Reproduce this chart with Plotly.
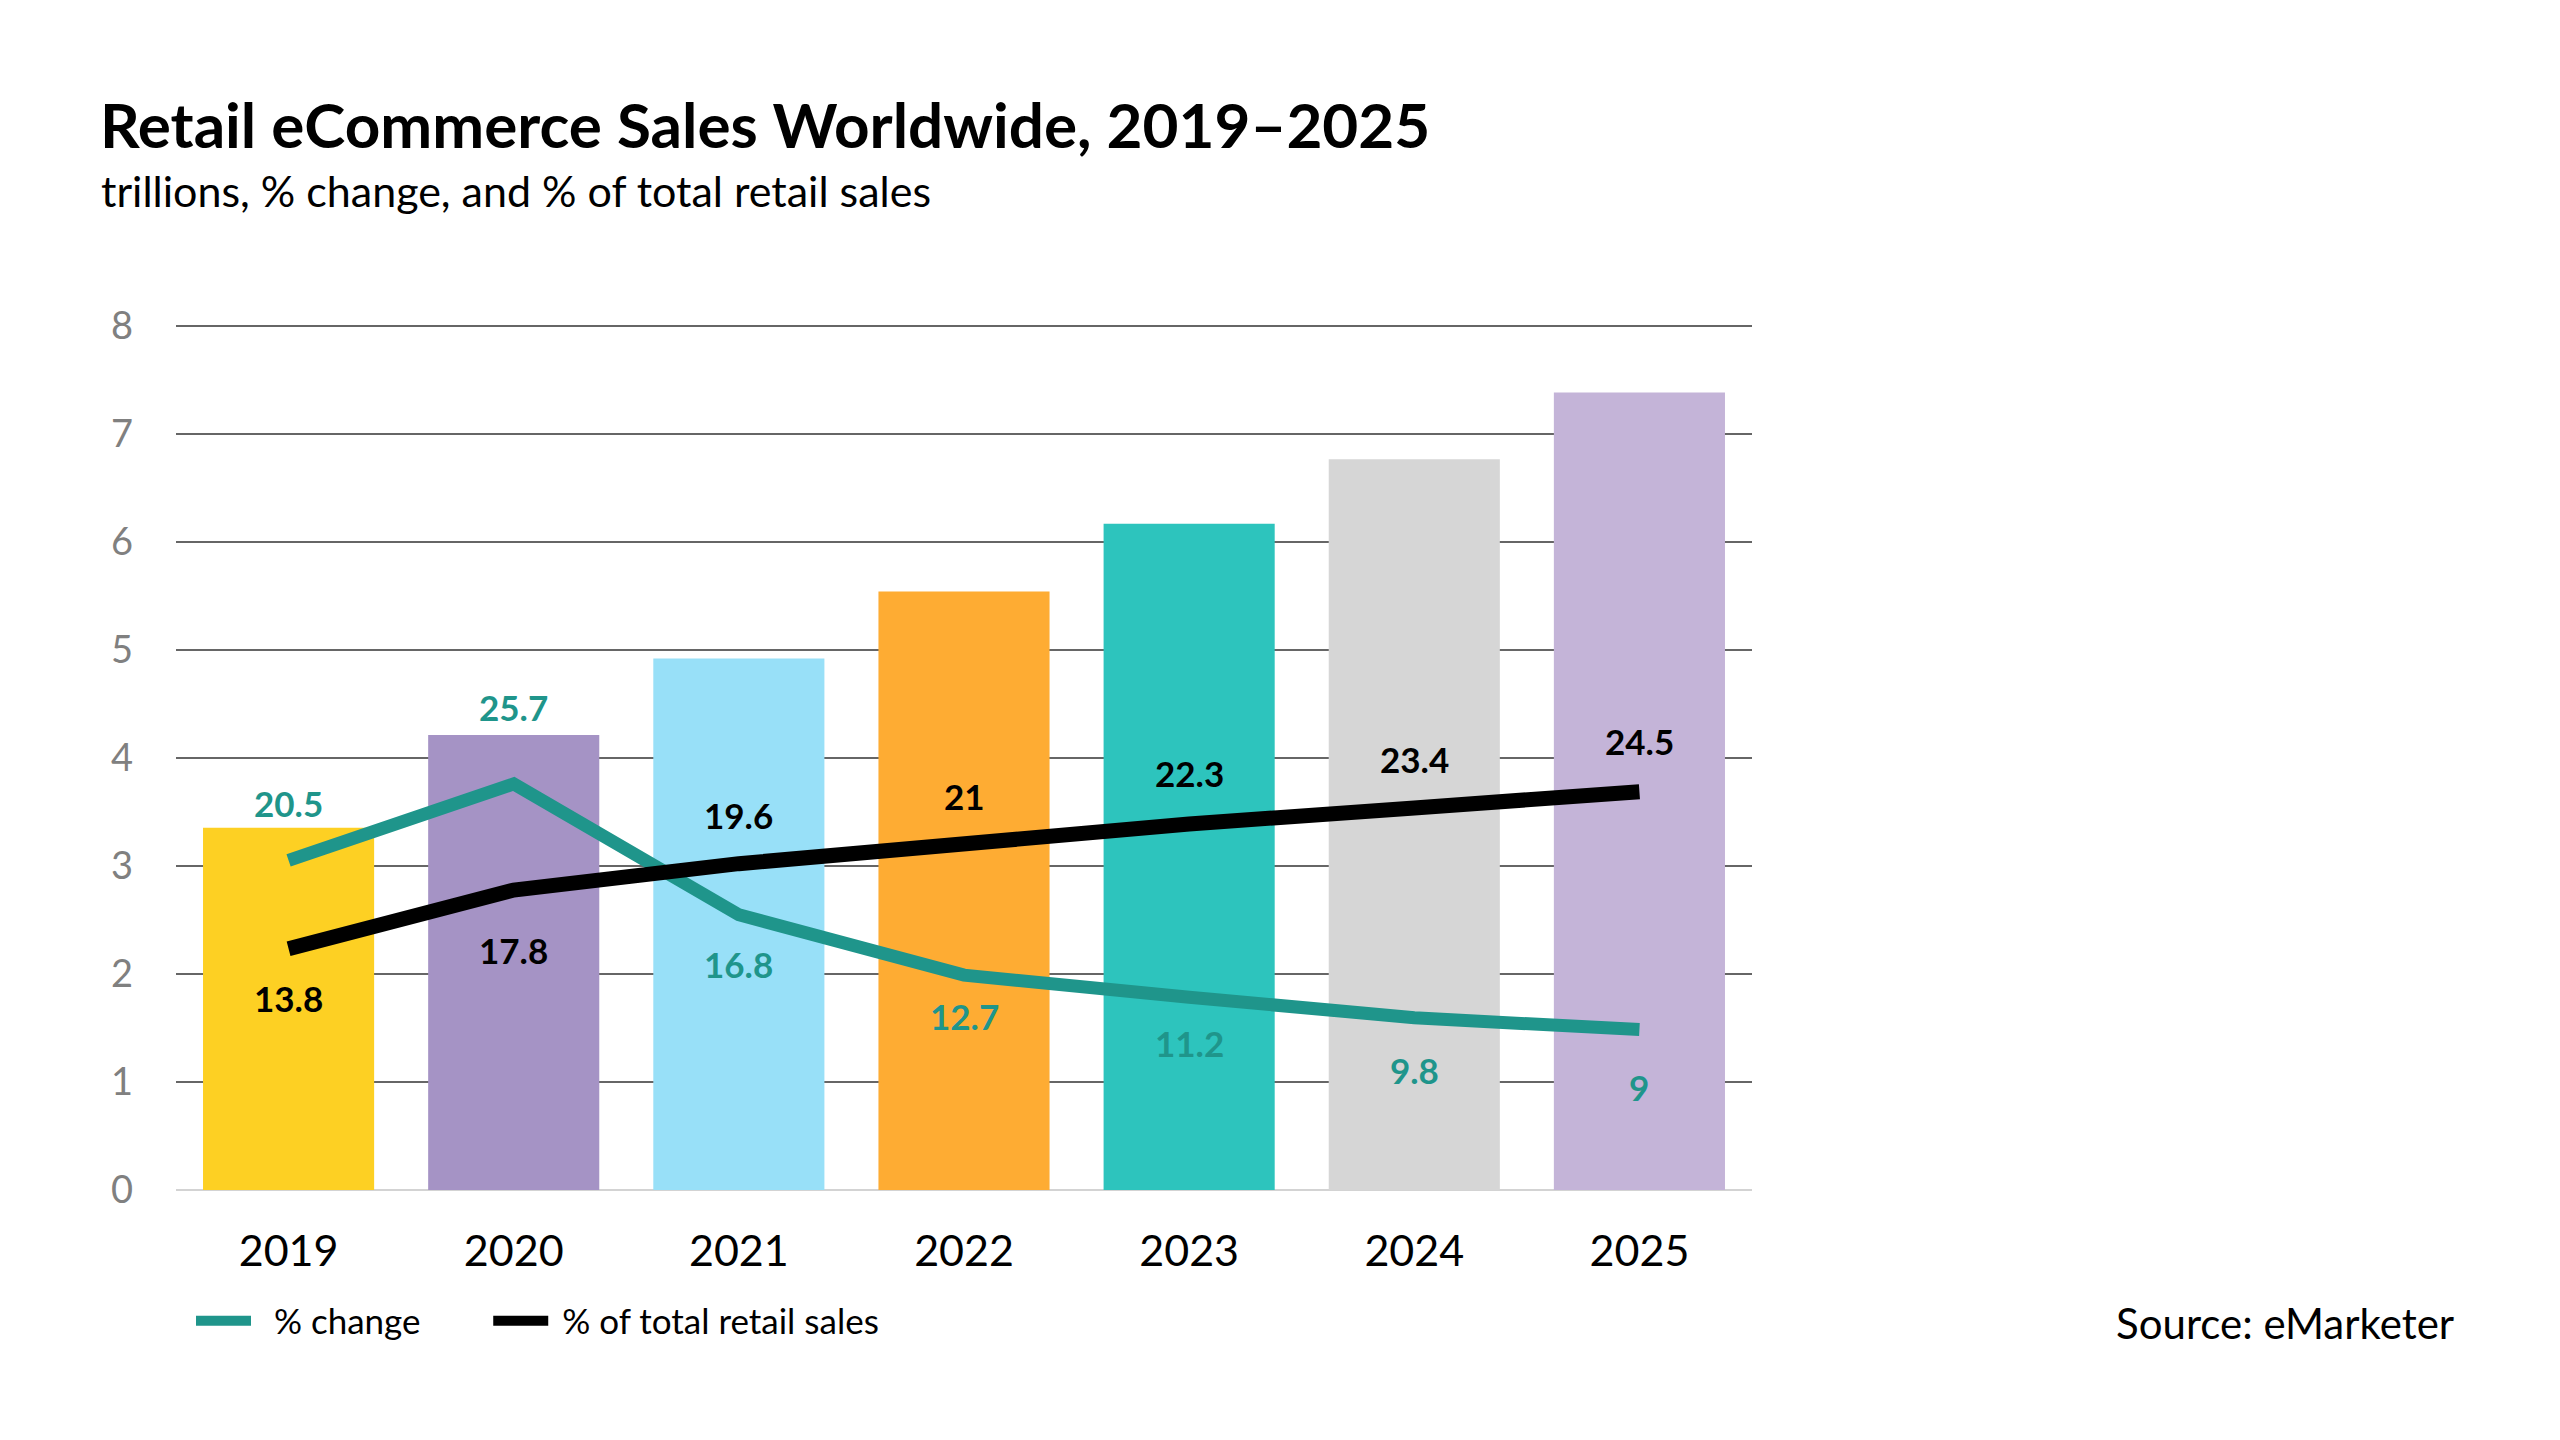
import plotly.graph_objects as go

years = ["2019", "2020", "2021", "2022", "2023", "2024", "2025"]
sales_trillions = [3.354, 4.213, 4.921, 5.542, 6.169, 6.767, 7.385]
pct_change = [20.5, 25.7, 16.8, 12.7, 11.2, 9.8, 9]
pct_of_total = [13.8, 17.8, 19.6, 21, 22.3, 23.4, 24.5]
y_ticks = [0, 1, 2, 3, 4, 5, 6, 7, 8]

bar_colors = ["#FDD023", "#A593C5", "#98E0F8", "#FEAC33", "#2DC4BD", "#D6D6D6", "#C4B4D8"]
TEAL = "#1F958B"
FONT = "Lato"

W, H = 2560, 1440
OFF = 8  # page body margin
L, R, T, B = 176, 1752, 325, 1190  # plot area in page pixels


def px_x(x):
    return (x - L) / (R - L)


def px_y(y):
    return (B - y) / (B - T)


fig = go.Figure()
fig.add_trace(go.Bar(x=years, y=sales_trillions, marker=dict(color=bar_colors, line=dict(width=0)),
                     showlegend=False, hoverinfo="y"))
fig.add_trace(go.Scatter(x=years, y=pct_change, yaxis="y2", mode="lines", name="  % change       ",
                         line=dict(color=TEAL, width=13)))
fig.add_trace(go.Scatter(x=years, y=pct_of_total, yaxis="y3", mode="lines", name=" % of total retail sales",
                         line=dict(color="black", width=15)))

# data labels (offsets in px from the data point)
teal_shift = [57, 77, -49, -41, -46, -52, -57]
black_shift = [-49, -60, 49, 47, 51, 49, 51]
ann = []
for i, (v, s) in enumerate(zip(pct_change, teal_shift)):
    ann.append(dict(x=i, y=v, xref="x", yref="y2", yshift=s, showarrow=False,
                    text="<b>%g</b>" % v, font=dict(family=FONT, size=35, color=TEAL)))
for i, (v, s) in enumerate(zip(pct_of_total, black_shift)):
    ann.append(dict(x=i, y=v, xref="x", yref="y3", yshift=s, showarrow=False,
                    text="<b>%g</b>" % v, font=dict(family=FONT, size=35, color="black")))

ann.append(dict(xref="paper", yref="paper", x=px_x(98), y=px_y(124), xanchor="left", yanchor="middle",
                showarrow=False, text="<b>Retail eCommerce Sales Worldwide, 2019–2025</b>",
                font=dict(family=FONT, size=62, color="black")))
ann.append(dict(xref="paper", yref="paper", x=px_x(99), y=px_y(191), xanchor="left", yanchor="middle",
                showarrow=False, text="trillions, % change, and % of total retail sales",
                font=dict(family=FONT, size=43, color="black")))
ann.append(dict(xref="paper", yref="paper", x=px_x(2456), y=px_y(1323), xanchor="right", yanchor="middle",
                showarrow=False, text="Source: eMarketer",
                font=dict(family=FONT, size=42, color="black")))

fig.update_layout(
    width=W, height=H,
    margin=dict(l=L - OFF, r=W - (R - OFF), t=T - OFF, b=H - (B - OFF), pad=0),
    paper_bgcolor="white", plot_bgcolor="white",
    bargap=0.24,
    annotations=ann,
    font=dict(family=FONT),
    xaxis=dict(type="category", showgrid=False, showline=False, ticks="",
               tickfont=dict(family=FONT, size=43, color="black"), ticklabelstandoff=32),
    yaxis=dict(range=[0, 8.01], tickvals=y_ticks, showgrid=True, gridcolor="#666666", gridwidth=1.5,
               zeroline=True, zerolinecolor="#D3D3D3", zerolinewidth=2, showline=False,
               tickfont=dict(family=FONT, size=38, color="#808080"), ticklabelstandoff=42),
    yaxis2=dict(range=[-1.90, 56.88], overlaying="y", visible=False),
    yaxis3=dict(range=[-2.64, 56.31], overlaying="y", visible=False),
    legend=dict(orientation="h", x=px_x(191), y=px_y(1321), xanchor="left", yanchor="middle",
                font=dict(family=FONT, size=35, color="black"), itemwidth=55,
                bgcolor="rgba(0,0,0,0)"),
)

fig.write_html("out.html")
